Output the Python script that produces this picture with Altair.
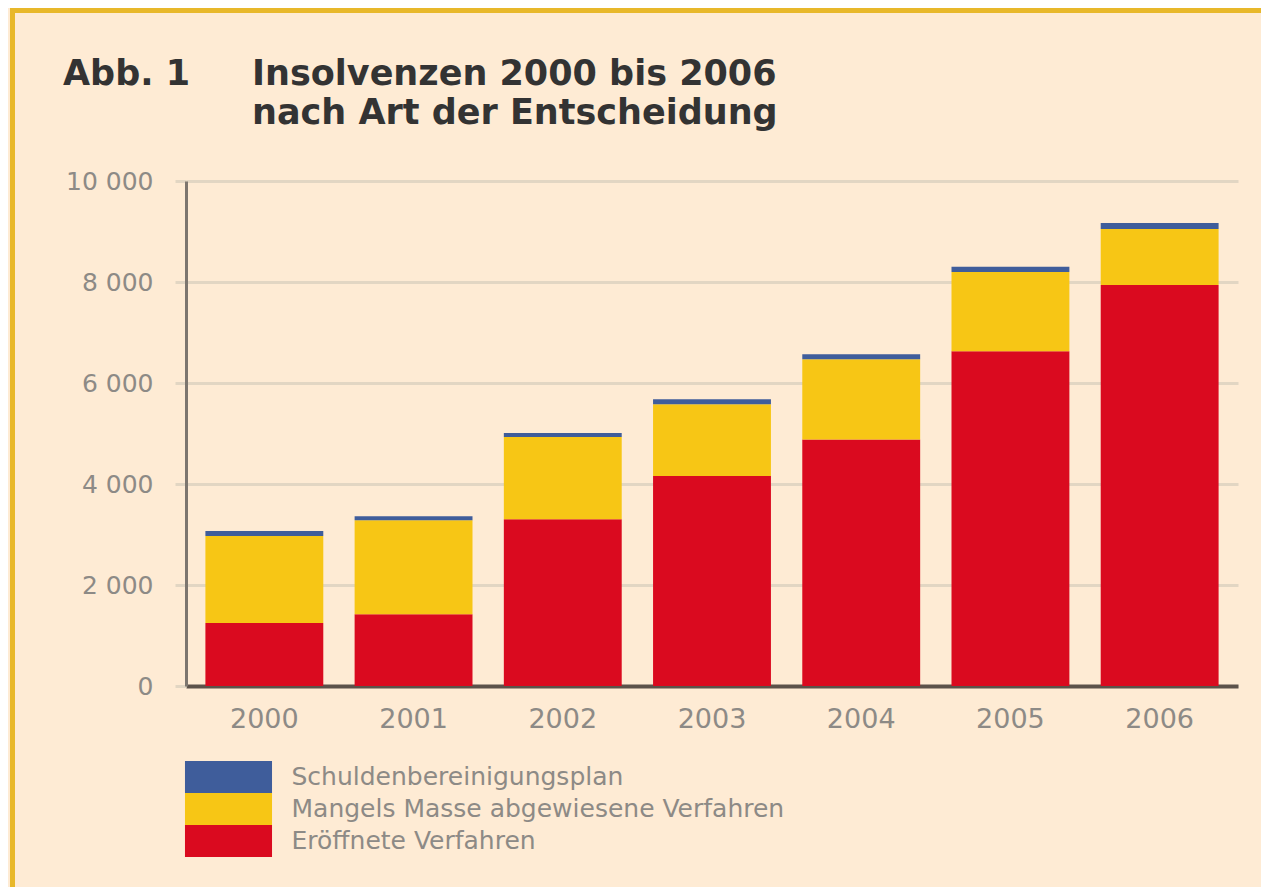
import altair as alt
import pandas as pd

years = ["2000", "2001", "2002", "2003", "2004", "2005", "2006"]
eroeffnet = [1250, 1420, 3300, 4160, 4880, 6630, 7940]
mangels = [1720, 1860, 1630, 1420, 1590, 1570, 1110]
schulden = [100, 80, 80, 100, 100, 100, 120]

series_names = ["Schuldenbereinigungsplan", "Mangels Masse abgewiesene Verfahren", "Eröffnete Verfahren"]
series_colors = ["#3F5D9B", "#F7C615", "#DA0A1F"]
stack_order = {"Eröffnete Verfahren": 0, "Mangels Masse abgewiesene Verfahren": 1, "Schuldenbereinigungsplan": 2}

rows = []
for i, y in enumerate(years):
    for name, vals in [("Eröffnete Verfahren", eroeffnet),
                       ("Mangels Masse abgewiesene Verfahren", mangels),
                       ("Schuldenbereinigungsplan", schulden)]:
        rows.append({"Jahr": y, "Art": name, "Anzahl": vals[i], "ord": stack_order[name]})
df = pd.DataFrame(rows)

title_main = ["Insolvenzen 2000 bis 2006", "nach Art der Entscheidung"]
title_prefix = "Abb. 1"

W, H = 1052, 505
PL, PT, PR, PB = 178, 173, 23, 201

font = "DejaVu Sans"
gray = "#8d8a86"

bars = alt.Chart(df).mark_bar().encode(
    x=alt.X("Jahr:N", sort=years,
            scale=alt.Scale(paddingInner=0.21, paddingOuter=0.13),
            axis=alt.Axis(title=None, labelAngle=0, ticks=False, labelPadding=20,
                          labelFontSize=27, labelColor=gray, labelFont=font,
                          domainColor="#5c524a", domainWidth=4, grid=False)),
    y=alt.Y("Anzahl:Q", stack="zero",
            scale=alt.Scale(domain=[0, 10000], nice=False),
            axis=alt.Axis(title=None, values=[0, 2000, 4000, 6000, 8000, 10000],
                          labelExpr="replace(format(datum.value, ','), ',', ' ')",
                          labelFontSize=25, labelColor=gray, labelFont=font,
                          labelPadding=22, tickSize=11, tickColor="#e2d6c3", tickWidth=3,
                          domainColor="#7d766f", domainWidth=3,
                          grid=True, gridColor="#e2d6c3", gridWidth=3)),
    color=alt.Color("Art:N",
                    scale=alt.Scale(domain=series_names, range=series_colors),
                    legend=alt.Legend(title=None, orient="none", legendX=26.5, legendY=580,
                                      symbolType="M-2.72,-1L2.72,-1L2.72,1L-2.72,1Z",
                                      symbolSize=1024, symbolStrokeWidth=0, symbolOpacity=1,
                                      labelFont=font, labelFontSize=25, labelColor=gray,
                                      labelOffset=47, rowPadding=0, labelLimit=800)),
    order=alt.Order("ord:Q", sort="ascending"),
)

frame = alt.Chart(pd.DataFrame({"f": [0]})).mark_rect(
    fill="transparent", stroke="#E8B82A", strokeWidth=5
).encode(
    x=alt.value(-173.5), x2=alt.value(W + PR + 20),
    y=alt.value(-170.5), y2=alt.value(H + PB + 20),
)

t_prefix = alt.Chart(pd.DataFrame({"t": [title_prefix]})).mark_text(
    font=font, fontSize=35, fontWeight="bold", color="#333333",
    align="left", baseline="alphabetic"
).encode(text="t:N", x=alt.value(-123), y=alt.value(-96))

t_line1 = alt.Chart(pd.DataFrame({"t": [title_main[0]]})).mark_text(
    font=font, fontSize=35, fontWeight="bold", color="#333333",
    align="left", baseline="alphabetic"
).encode(text="t:N", x=alt.value(66), y=alt.value(-96))

t_line2 = alt.Chart(pd.DataFrame({"t": [title_main[1]]})).mark_text(
    font=font, fontSize=35, fontWeight="bold", color="#333333",
    align="left", baseline="alphabetic"
).encode(text="t:N", x=alt.value(66), y=alt.value(-57))

chart = alt.layer(bars, frame, t_prefix, t_line1, t_line2).properties(
    width=W, height=H,
    padding={"left": PL, "top": PT, "right": PR, "bottom": PB},
    autosize=alt.AutoSizeParams(type="none"),
    background="#FEEBD4",
).configure_view(stroke=None, fill="#FEEBD4")

chart.save("out.html", embed_options={"renderer": "svg", "actions": False})
